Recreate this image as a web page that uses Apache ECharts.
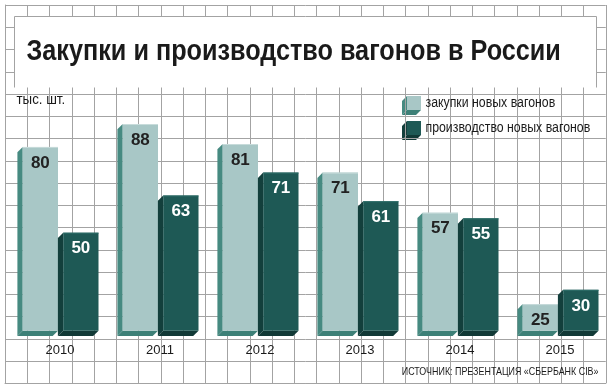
<!DOCTYPE html>
<html>
<head>
<meta charset="utf-8">
<script src="https://cdn.jsdelivr.net/npm/echarts@6/dist/echarts.min.js"></script>
<style>
html,body{margin:0;padding:0;background:#fff;}
#chart{width:614px;height:392px;}
</style>
</head>
<body>
<div id="chart"></div>
<script>
// ---- data ----
var years = ['2010', '2011', '2012', '2013', '2014', '2015'];
var purchases = [80, 88, 81, 71, 57, 25];
var production = [50, 63, 71, 61, 55, 30];
var seriesNames = ['закупки новых вагонов', 'производство новых вагонов'];
var titleText = 'Закупки и производство вагонов в России';
var unitText = 'тыс. шт.';
var sourceText = 'ИСТОЧНИК: ПРЕЗЕНТАЦИЯ «СБЕРБАНК CIB»';

var Y_MIN = 15.7, Y_MAX = 100;
var FONT = "'Liberation Sans', Arial, sans-serif";
var GRIDC = '#a3a3a3';

var styles = {
  light: { front: '#a8c7c6', side: '#468a81', bottom: '#3d8077', edge: '#c8dcdb', label: '#222222', off: -0.373 },
  dark:  { front: '#1e5955', side: '#133f3c', bottom: '#113936', edge: '#2e6e69', label: '#ffffff', off: 0.032 }
};

function makeRender(st) {
  return function (params, api) {
    var val = api.value(1);
    var top = api.coord([api.value(0), val]);
    var base = api.coord([api.value(0), Y_MIN]);
    var band = api.size([1, 0])[0];
    var w = 0.353 * band;
    var x0 = top[0] + st.off * band;
    var yt = top[1], yb = base[1];
    var d = 5.3;
    return {
      type: 'group',
      children: [
        { type: 'polygon', shape: { points: [[x0, yt], [x0 - d, yt + d], [x0 - d, yb + d], [x0, yb]] }, style: { fill: st.side } },
        { type: 'polygon', shape: { points: [[x0, yb], [x0 + w, yb], [x0 + w - d, yb + d], [x0 - d, yb + d]] }, style: { fill: st.bottom } },
        { type: 'rect', shape: { x: x0, y: yt, width: w, height: yb - yt }, style: { fill: st.front } },
        { type: 'line', shape: { x1: x0, y1: yt + 0.5, x2: x0 + w, y2: yt + 0.5 }, style: { stroke: st.edge, lineWidth: 1 } },
        { type: 'text', style: { text: String(val), x: x0 + w / 2, y: yt + 16, align: 'center', verticalAlign: 'middle',
            font: 'bold 17px ' + FONT, fill: st.label } }
      ]
    };
  };
}

// text squeezed horizontally to mimic a condensed face
function narrowText(str, x, y, size, sx, align, weight, z) {
  return {
    type: 'text', z: z || 20, x: x, y: y, scaleX: sx,
    style: { text: str, x: 0, y: 0, align: align || 'left', verticalAlign: 'middle',
      font: (weight || 'normal') + ' ' + size + 'px ' + FONT, fill: '#1a1a1a' }
  };
}

function legendItem(y, st, name) {
  var x = 407, s = 14, d = 5;
  return {
    type: 'group', z: 20,
    children: [
      { type: 'polygon', shape: { points: [[x, y], [x - d, y + d], [x - d, y + s + d], [x, y + s]] }, style: { fill: st.side } },
      { type: 'polygon', shape: { points: [[x, y + s], [x + s, y + s], [x + s - d, y + s + d], [x - d, y + s + d]] }, style: { fill: st.bottom } },
      { type: 'rect', shape: { x: x, y: y, width: s, height: s }, style: { fill: st.front } },
      narrowText(name, 425.5, y + 7.5, 14, 0.88)
    ]
  };
}

var chart = echarts.init(document.getElementById('chart'), null, { renderer: 'canvas' });
chart.setOption({
  animation: false,
  backgroundColor: '#ffffff',
  grid: [
    { left: 10, width: 600, top: 89.7, height: 241 },
    { left: 5, top: 5, width: 600.75, height: 378.25 }
  ],
  xAxis: [
    { type: 'category', gridIndex: 0, data: years,
      axisLine: { show: false }, axisTick: { show: false },
      axisLabel: { margin: 13, fontFamily: FONT, fontSize: 13, color: '#1a1a1a' } },
    { type: 'value', gridIndex: 1, min: 0, max: 27, interval: 1,
      axisLine: { show: true, lineStyle: { color: GRIDC } }, axisTick: { show: false }, axisLabel: { show: false },
      splitLine: { show: true, lineStyle: { color: GRIDC, width: 1 } } }
  ],
  yAxis: [
    { type: 'value', gridIndex: 0, min: Y_MIN, max: Y_MAX, show: false },
    { type: 'value', gridIndex: 1, min: 0, max: 17, interval: 1,
      axisLine: { show: true, lineStyle: { color: GRIDC } }, axisTick: { show: false }, axisLabel: { show: false },
      splitLine: { show: true, lineStyle: { color: GRIDC, width: 1 } } }
  ],
  graphic: [
    { type: 'rect', z: 10, shape: { x: 14, y: 16, width: 583, height: 71.5 }, style: { fill: '#ffffff' } },
    { type: 'polyline', z: 11, shape: { points: [[14.5, 87.5], [14.5, 16.5], [596.5, 16.5], [596.5, 87.5]] }, style: { stroke: GRIDC, lineWidth: 1, fill: null } },
    narrowText(titleText, 26.5, 52, 29, 0.87, 'left', 'bold', 30),
    narrowText(unitText, 16.5, 100.5, 14, 0.95),
    legendItem(96, styles.light, seriesNames[0]),
    legendItem(121, styles.dark, seriesNames[1]),
    narrowText(sourceText, 598.5, 372, 11, 0.81, 'right')
  ],
  series: [
    { type: 'custom', name: seriesNames[0], xAxisIndex: 0, yAxisIndex: 0, z: 5,
      renderItem: makeRender(styles.light), data: purchases.map(function (v, i) { return [i, v]; }) },
    { type: 'custom', name: seriesNames[1], xAxisIndex: 0, yAxisIndex: 0, z: 6,
      renderItem: makeRender(styles.dark), data: production.map(function (v, i) { return [i, v]; }) }
  ]
});
</script>
</body>
</html>
